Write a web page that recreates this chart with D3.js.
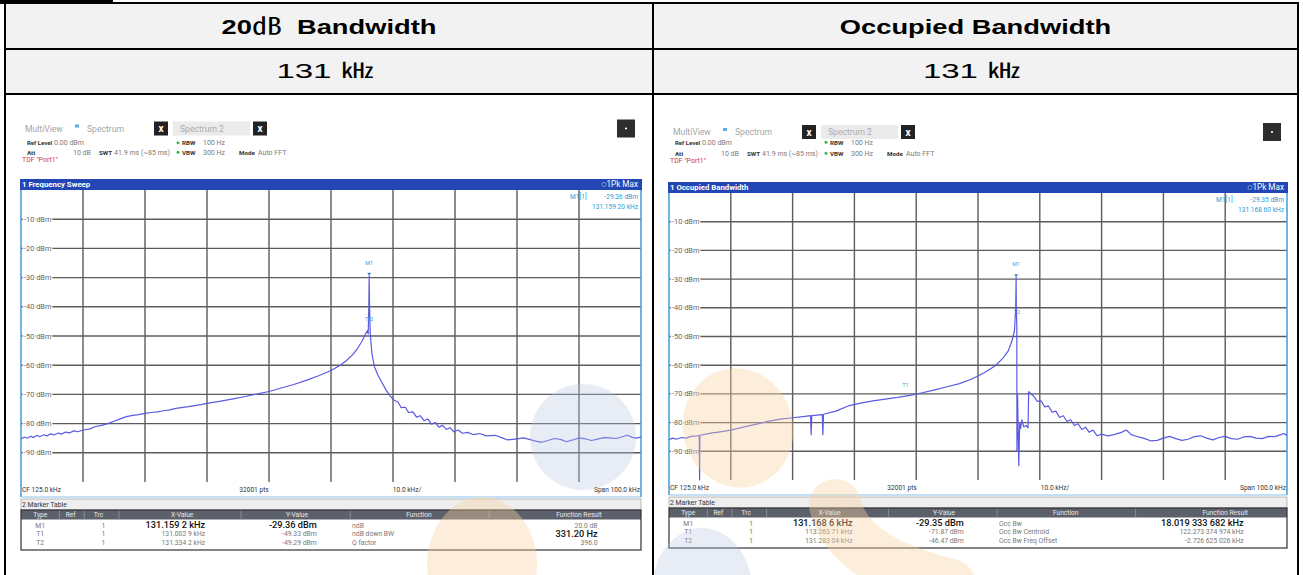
<!DOCTYPE html>
<html>
<head>
<meta charset="utf-8">
<script src="https://cdn.jsdelivr.net/npm/d3@7"></script>
<style>
  body { margin: 0; background: #fff; }
  svg { display: block; }
</style>
</head>
<body>
<script>
// ---- data ----
const headerTitles = ["20", "Occupied Bandwidth"];
const resultValues = ["131", "131"];
const freqDomain = [75, 175];            // CF 125 kHz, span 100 kHz
const freqGrid = [85, 95, 105, 115, 125, 135, 145, 155, 165];
const levelTicks = [-10, -20, -30, -40, -50, -60, -70, -80, -90];

// 1 Frequency Sweep trace [kHz, dBm]
const sweepTrace = [
  [75.0,-85.2],[75.6,-84.6],[76.0,-85.0],[76.6,-84.3],[77.0,-84.8],[77.6,-84.0],[78.0,-84.5],
  [78.7,-83.8],[79.2,-84.2],[79.8,-83.5],[80.3,-83.9],[81.0,-83.2],[81.5,-83.6],[82.2,-82.9],
  [82.8,-83.2],[83.5,-82.5],[84.2,-82.8],[85.0,-82.2],[86.0,-81.9],[87.0,-81.0],[88.0,-80.6],
  [89.0,-80.0],[90.0,-79.2],[91.0,-78.4],[92.0,-77.6],[93.0,-77.2],[94.0,-76.9],[95.0,-76.5],
  [96.0,-76.2],[97.0,-76.0],[98.0,-75.6],[99.0,-75.3],[100.0,-74.8],[102.0,-74.2],[104.0,-73.5],
  [105.0,-73.1],[107.0,-72.4],[109.0,-71.6],[111.0,-70.8],[113.0,-69.9],[115.0,-69.0],
  [117.0,-67.8],[119.0,-66.6],[121.0,-65.2],[123.0,-63.6],[125.0,-61.8],[126.5,-60.0],
  [127.5,-58.4],[128.5,-56.4],[129.3,-54.2],[130.0,-51.8],[130.5,-49.6],[130.85,-48.2],
  [131.0,-49.3],[131.1,-40.0],[131.159,-29.36],[131.22,-40.0],[131.334,-49.29],[131.6,-56.0],
  [132.0,-60.5],[132.6,-63.5],[133.1,-65.5],[133.8,-68.2],[134.5,-70.4],[135.2,-72.0],
  [135.8,-72.6],[136.3,-74.5],[137.0,-74.4],[137.5,-76.2],[138.2,-76.0],[138.8,-77.8],
  [139.4,-77.3],[140.0,-79.0],[140.6,-78.4],[141.2,-80.2],[141.8,-79.6],[142.4,-81.2],
  [143.0,-80.6],[143.6,-82.0],[144.2,-81.4],[144.8,-82.8],[145.5,-82.2],[146.2,-83.3],
  [147.0,-83.0],[148.0,-83.8],[149.0,-83.4],[150.0,-84.2],[151.5,-84.0],[152.5,-84.8],
  [153.5,-85.6],[155.0,-85.2],[156.0,-84.9],[157.0,-85.4],[158.0,-86.0],[159.0,-86.4],
  [160.0,-85.8],[161.0,-85.1],[162.0,-85.4],[163.0,-86.2],[164.0,-85.6],[165.0,-84.9],
  [166.0,-85.2],[167.0,-85.8],[168.0,-85.3],[169.0,-84.8],[170.0,-84.9],[171.0,-85.1],
  [172.0,-84.5],[172.8,-84.0],[173.6,-84.7],[174.3,-85.0],[175.0,-84.6]
];

// 1 Occupied Bandwidth trace [kHz, dBm]
const obwTrace = [
  [75.0,-86.0],[75.6,-85.4],[76.2,-85.8],[77.0,-85.2],[77.8,-85.4],[78.6,-84.8],[79.6,-84.6],
  [79.9,-84.5],[79.95,-100],[80.0,-84.4],[81.0,-84.0],[82.0,-83.6],[83.0,-83.3],[84.0,-83.0],
  [85.0,-82.6],[87.0,-81.6],[89.0,-80.6],[91.0,-79.6],[93.0,-78.8],[95.0,-78.3],[97.0,-77.8],
  [97.9,-77.6],[98.0,-84.2],[98.1,-77.6],[99.8,-77.2],[99.9,-84.2],[100.0,-77.1],[102.0,-76.0],
  [104.0,-74.2],[106.0,-73.2],[108.0,-72.4],[110.0,-71.8],[112.0,-71.2],[114.0,-70.5],
  [116.0,-69.6],[118.0,-68.6],[120.0,-67.5],[122.0,-66.4],[124.0,-64.8],[126.0,-62.6],
  [127.8,-60.2],[129.0,-57.6],[129.9,-55.0],[130.5,-51.5],[130.9,-48.0],[131.1,-40.0],
  [131.169,-29.35],[131.2,-40.0],[131.283,-46.47],[131.3,-90.0],[131.4,-70.0],[131.6,-95.0],
  [131.75,-80.0],[131.9,-82.0],[132.1,-79.0],[132.4,-81.5],[132.8,-81.0],[133.1,-81.8],
  [133.2,-69.2],[134.0,-70.8],[134.6,-72.6],[135.2,-72.4],[135.8,-74.5],[136.4,-74.2],
  [137.0,-76.4],[137.6,-76.0],[138.2,-78.2],[138.8,-77.6],[139.4,-79.6],[140.0,-79.0],
  [140.6,-81.0],[141.2,-80.4],[141.8,-82.4],[142.4,-81.6],[143.0,-83.4],[143.6,-82.6],
  [144.3,-84.6],[145.0,-84.0],[146.0,-84.6],[147.0,-84.2],[148.2,-83.4],[149.0,-82.6],
  [149.8,-84.2],[151.0,-85.0],[152.0,-85.6],[153.0,-86.4],[154.0,-86.2],[155.0,-85.4],
  [156.0,-84.8],[157.0,-85.6],[158.0,-86.2],[159.0,-85.8],[160.0,-84.9],[161.0,-84.6],
  [162.0,-85.4],[163.0,-86.0],[164.0,-85.2],[165.0,-84.8],[166.0,-85.6],[167.0,-85.8],
  [168.0,-85.0],[169.0,-84.8],[170.0,-85.4],[171.0,-85.6],[172.0,-84.8],[173.0,-84.9],
  [174.0,-84.2],[174.5,-83.8],[175.0,-84.5]
];

// markers [name, kHz, dBm]
const sweepMarkers = [["M1",131.159,-29.36],["T1",131.0029,-49.33],["T2",131.3342,-49.29]];
const obwMarkers = [["M1",131.1686,-29.35],["T1",113.26371,-71.87],["T2",131.28304,-46.47]];

const tableHead = ["Type","Ref","Trc","X-Value","Y-Value","Function","Function Result"];
const sweepRows = [
  ["M1","","1","131.159 2 kHz","-29.36 dBm","ndB","20.0 dB"],
  ["T1","","1","131.002 9 kHz","-49.33 dBm","ndB down BW","331.20 Hz"],
  ["T2","","1","131.334 2 kHz","-49.29 dBm","Q factor","396.0"]
];
const obwRows = [
  ["M1","","1","131.168 6 kHz","-29.35 dBm","Occ Bw","18.019 333 682 kHz"],
  ["T1","","1","113.263 71 kHz","-71.87 dBm","Occ Bw Centroid","122.273 374 974 kHz"],
  ["T2","","1","131.283 04 kHz","-46.47 dBm","Occ Bw Freq Offset","-2.726 625 026 kHz"]
];

const W = 1303, H = 575;
const svg = d3.select("body").append("svg").attr("width", W).attr("height", H);
const UI = "Roboto, 'Noto Sans', sans-serif";
const DOC = "'Liberation Sans', Arial, sans-serif";

// ---- outer document table ----
svg.append("rect").attr("x", 0).attr("y", 0).attr("width", 113).attr("height", 4).attr("fill", "#000");
svg.append("rect").attr("x", 5).attr("y", 3).attr("width", 1293).attr("height", 91).attr("fill", "#f2f2f2");
[3, 49, 94].forEach(yy => svg.append("line").attr("x1", 4).attr("x2", 1299).attr("y1", yy).attr("y2", yy)
  .attr("stroke", "#000").attr("stroke-width", 2));
[5, 653, 1298].forEach(xx => svg.append("line").attr("x1", xx).attr("x2", xx).attr("y1", 3).attr("y2", H)
  .attr("stroke", "#000").attr("stroke-width", 2));

const cellMid = [329, 975.5];
// header texts are wide in the source document, so stretch them horizontally
const h1 = svg.append("g").attr("transform", `translate(${cellMid[0]},34) scale(1.3,1)`)
  .append("text").attr("text-anchor", "middle").attr("font-family", DOC).attr("font-size", 21).attr("font-weight", "bold");
h1.append("tspan").text(headerTitles[0]);
h1.append("tspan").attr("font-family", "'Noto Sans CJK SC'").attr("font-weight", "normal").attr("font-size", 23).text("㏈");
h1.append("tspan").text("\u00a0 Bandwidth");
svg.append("g").attr("transform", `translate(${cellMid[1]},34) scale(1.3,1)`)
  .append("text").attr("text-anchor", "middle").attr("font-family", DOC).attr("font-size", 21).attr("font-weight", "bold")
  .text(headerTitles[1]);
resultValues.forEach((v, i) => {
  const t = svg.append("g").attr("transform", `translate(${cellMid[i] - 4},78) scale(1.65,1)`)
    .append("text").attr("text-anchor", "middle").attr("font-family", DOC).attr("font-size", 20);
  t.append("tspan").text(v + "\u00a0");
  t.append("tspan").attr("font-family", "'Noto Sans CJK SC'").text("㎑");
});

// ---- analyzer screenshot ----
function drawPanel(p) {
  const g = svg.append("g");
  const L = p.x0, R = p.x1;
  const x = d3.scaleLinear().domain(freqDomain).range([p.x0, p.x1]);
  const y = d3.scaleLinear().domain([0, -100]).range([p.plotTop, p.plotBottom]);
  const txt = (xx, yy, s, o = {}) => g.append("text").attr("x", xx).attr("y", yy)
    .attr("font-family", UI).attr("font-size", o.size || 7).attr("fill", o.fill || "#7a7a7a")
    .attr("font-weight", o.bold ? "bold" : "normal").attr("text-anchor", o.anchor || "start").text(s);

  // tab row
  const ty = p.rows[0];
  txt(L + 4, ty, "MultiView", { fill: "#a5a5a5", size: 8.6 });
  g.append("rect").attr("x", L + 54).attr("y", ty - 7).attr("width", 4).attr("height", 3).attr("fill", "#56b0e6");
  txt(L + 66, ty, "Spectrum", { fill: "#a5a5a5", size: 8.6 });
  g.append("rect").attr("x", L + 152).attr("y", ty - 10).attr("width", 77).attr("height", 14).attr("fill", "#ebebeb");
  txt(L + 159, ty, "Spectrum 2", { fill: "#ababab", size: 8.6 });
  [L + 133, L + 232].forEach(bx => {
    g.append("rect").attr("x", bx).attr("y", ty - 10).attr("width", 14).attr("height", 14).attr("fill", "#222");
    txt(bx + 7, ty + 0.5, "x", { fill: "#fff", size: 10, bold: true, anchor: "middle" });
  });
  g.append("rect").attr("x", R - 24).attr("y", ty - 12).attr("width", 18).attr("height", 18).attr("fill", "#2d2d2d");
  g.append("circle").attr("cx", R - 15).attr("cy", ty - 3).attr("r", 1.1).attr("fill", "#fff");

  const ry = p.rows[1], ay = p.rows[2];
  txt(L + 6, ry, "Ref Level", { fill: "#333", bold: true, size: 6 });
  txt(L + 33, ry, "0.00 dBm");
  txt(L + 6, ay, "Att", { fill: "#333", bold: true, size: 6.2 });
  txt(L + 52, ay, "10 dB");
  txt(L + 78, ay, "SWT", { fill: "#333", bold: true, size: 6.2 });
  txt(L + 93, ay, "41.9 ms (~85 ms)");
  [ry, ay].forEach(yy => g.append("circle").attr("cx", L + 157).attr("cy", yy - 2.3).attr("r", 1.5).attr("fill", "#3fb24d"));
  txt(L + 161, ry, "RBW", { fill: "#333", bold: true, size: 6.2 });
  txt(L + 182, ry, "100 Hz");
  txt(L + 161, ay, "VBW", { fill: "#333", bold: true, size: 6.2 });
  txt(L + 182, ay, "300 Hz");
  txt(L + 218, ay, "Mode", { fill: "#333", bold: true, size: 6.2 });
  txt(L + 237, ay, "Auto FFT");
  txt(L + 1, p.rows[3], "TDF \"Port1\"", { fill: "#d23a3a", size: 7 });

  // title bar
  g.append("rect").attr("x", L - 1).attr("y", p.plotTop - 11).attr("width", R - L + 2).attr("height", 11).attr("fill", "#2247b5");
  txt(L + 1, p.plotTop - 2.8, p.title, { fill: "#fff", bold: true, size: 7.8 });
  txt(R - 3, p.plotTop - 2.6, "1Pk Max", { fill: "#fff", anchor: "end", size: 8.2 });
  g.append("circle").attr("cx", R - 37).attr("cy", p.plotTop - 5.5).attr("r", 2).attr("fill", "#173a9a").attr("stroke", "#9fc9f0").attr("stroke-width", 0.7);

  // plot grid
  g.append("rect").attr("x", L).attr("y", p.plotTop).attr("width", R - L).attr("height", p.plotBottom - p.plotTop).attr("fill", "#fff");
  g.selectAll(".vg").data(freqGrid).join("line")
    .attr("x1", d => x(d)).attr("x2", d => x(d)).attr("y1", p.plotTop).attr("y2", p.plotBottom)
    .attr("stroke", "#5c5c5c").attr("stroke-width", 1.4);
  g.selectAll(".hg").data(levelTicks).join("line")
    .attr("x1", L).attr("x2", R).attr("y1", d => y(d)).attr("y2", d => y(d))
    .attr("stroke", "#5c5c5c").attr("stroke-width", 1.4);
  g.selectAll(".yl").data(levelTicks).join("text")
    .attr("x", L + 3).attr("y", d => y(d) + 2.5)
    .attr("font-family", UI).attr("font-size", 7.4).attr("fill", "#666")
    .attr("stroke", "#fff").attr("stroke-width", 2.5).attr("paint-order", "stroke")
    .text(d => d + " dBm");
  [L, R].forEach(xx => g.append("line").attr("x1", xx).attr("x2", xx).attr("y1", p.plotTop).attr("y2", p.plotBottom + 15)
    .attr("stroke", "#4aa2de").attr("stroke-width", 1.6));

  // trace
  const line = d3.line().x(d => x(d[0])).y(d => y(d[1]));
  g.append("path").datum(p.trace).attr("d", line).attr("fill", "none")
    .attr("stroke", "#5a5ae2").attr("stroke-width", 1.2).attr("stroke-linejoin", "round");

  // markers
  p.markers.forEach((m, i) => {
    const mx = x(m[1]), my = y(m[2]);
    if (i === 0) {
      g.append("path").attr("d", `M${mx - 2},${my - 3}L${mx + 2},${my - 3}L${mx},${my}Z`).attr("fill", "#3d7fd0");
    }
    txt(mx, my - p.labelDy[i], m[0], { fill: "#3aa0dc", size: 5.4, anchor: "middle" });
  });

  // marker info
  const m1 = p.markers[0];
  txt(R - 71, p.plotTop + 9, "M1[1]", { fill: "#2a9bd8", size: 6.6 });
  txt(R - 3, p.plotTop + 9, m1[2].toFixed(2) + " dBm", { fill: "#2a9bd8", anchor: "end", size: 6.6 });
  txt(R - 3, p.plotTop + 19, p.m1Freq, { fill: "#2a9bd8", anchor: "end", size: 6.6 });

  // footer
  const fb = p.plotBottom;
  g.append("line").attr("x1", L).attr("x2", R).attr("y1", fb + 15).attr("y2", fb + 15).attr("stroke", "#8cc2ea").attr("stroke-width", 1);
  txt(L + 1, fb + 10, "CF 125.0 kHz", { fill: "#333", size: 6.6 });
  txt(L + 233, fb + 10, "32001 pts", { fill: "#333", anchor: "middle", size: 6.6 });
  txt(L + 386, fb + 10, "10.0 kHz/", { fill: "#333", anchor: "middle", size: 6.6 });
  txt(R - 1, fb + 10, "Span 100.0 kHz", { fill: "#333", anchor: "end", size: 6.6 });

  // marker table
  const tt = fb + 17, Wt = R - L;
  g.append("rect").attr("x", L).attr("y", tt).attr("width", Wt).attr("height", 11).attr("fill", "#eeeeee").attr("stroke", "#aaa").attr("stroke-width", 0.8);
  txt(L + 1, tt + 8.3, "2 Marker Table", { fill: "#333", size: 6.8 });
  g.append("rect").attr("x", L).attr("y", tt + 11).attr("width", Wt).attr("height", 9.5).attr("fill", "#5c606b");
  [0.062, 0.102, 0.158, 0.355, 0.531, 0.755].forEach(f => g.append("line")
    .attr("x1", L + f * Wt).attr("x2", L + f * Wt).attr("y1", tt + 11).attr("y2", tt + 20.5)
    .attr("stroke", "#9a9da5").attr("stroke-width", 0.7));
  const headPos = [0.031, 0.08, 0.125, 0.26, 0.445, 0.642, 0.9];
  tableHead.forEach((h, i) => txt(L + headPos[i] * Wt, tt + 18.2, h, { fill: "#e8e8e8", anchor: "middle", size: 6.6 }));
  g.append("rect").attr("x", L).attr("y", tt + 11).attr("width", Wt).attr("height", 40).attr("fill", "none").attr("stroke", "#333").attr("stroke-width", 1.2);
  const colPos = [[0.031, "middle"], [0.08, "middle"], [0.133, "middle"], [0.297, "end"], [0.477, "end"], [0.534, "start"], [0.93, "end"]];
  p.tableRows.forEach((row, r) => {
    const by = tt + 28.5 + r * 8.8;
    row.forEach((c, ci) => {
      const big = (r === 0 && (ci === 3 || ci === 4)) || (r === p.boldResult && ci === 6);
      txt(L + colPos[ci][0] * Wt, by + (big ? 0.6 : 0), c,
        { fill: big ? "#111" : "#777", size: big ? 9.2 : 6.8, anchor: colPos[ci][1] })
        .attr("font-weight", big ? 500 : 400);
    });
  });
  return g;
}

drawPanel({
  x0: 21, x1: 641, plotTop: 190, plotBottom: 482, rows: [131.5, 145, 154.5, 161.5],
  title: "1 Frequency Sweep", trace: sweepTrace, markers: sweepMarkers,
  labelDy: [11, 13, 13], m1Freq: "131.159 20 kHz",
  tableRows: sweepRows, boldResult: 1
});
drawPanel({
  x0: 669, x1: 1287, plotTop: 193, plotBottom: 480, rows: [135, 144.5, 155.5, 162.5],
  title: "1 Occupied Bandwidth", trace: obwTrace, markers: obwMarkers,
  labelDy: [11, 12, 12], m1Freq: "131.168 60 kHz",
  tableRows: obwRows, boldResult: 0
});

// ---- faint watermark shapes ----
const wm = svg.append("g").style("pointer-events", "none");
const peach = "#fbd3a2", blueGrey = "#b9c5df";
wm.append("circle").attr("cx", 583).attr("cy", 437).attr("r", 53).attr("fill", blueGrey).attr("opacity", 0.32);
wm.append("ellipse").attr("cx", 482).attr("cy", 565).attr("rx", 55).attr("ry", 68).attr("fill", peach).attr("opacity", 0.38);
wm.append("ellipse").attr("transform", "translate(738,428) rotate(-15)").attr("rx", 55).attr("ry", 60).attr("fill", peach).attr("opacity", 0.38);
wm.append("path").attr("d", "M835,505 C845,545 885,568 950,585").attr("fill", "none")
  .attr("stroke", peach).attr("stroke-width", 52).attr("stroke-linecap", "round").attr("opacity", 0.38);
wm.append("ellipse").attr("cx", 702).attr("cy", 590).attr("rx", 50).attr("ry", 62).attr("fill", blueGrey).attr("opacity", 0.32);
</script>
</body>
</html>
